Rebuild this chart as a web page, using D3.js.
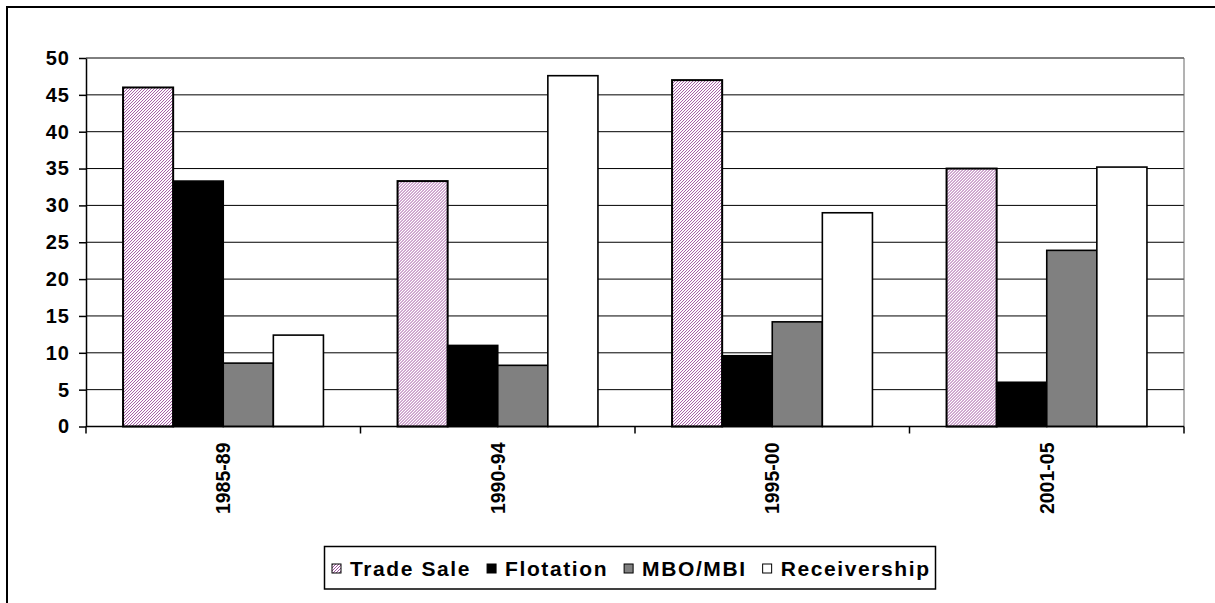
<!DOCTYPE html>
<html>
<head>
<meta charset="utf-8">
<script src="https://cdn.jsdelivr.net/npm/d3@7"></script>
<style>
  body { margin: 0; background: #fff; }
  text { font-family: "Liberation Sans", Arial, sans-serif; font-weight: bold; fill: #000; }
</style>
</head>
<body>
<svg id="canvas" width="1215" height="603"></svg>
<script>
const width = 1215
const height = 603

// data
const periods = ["1985-89", "1990-94", "1995-00", "2001-05"]
const seriesNames = ["Trade Sale", "Flotation", "MBO/MBI", "Receivership"]
const tradeSale = [46, 33.3, 47, 35]
const flotation = [33.3, 11, 9.6, 6]
const mboMbi = [8.6, 8.3, 14.2, 23.9]
const receivership = [12.4, 47.6, 29, 35.2]
const yTicks = [0, 5, 10, 15, 20, 25, 30, 35, 40, 45, 50]

const seriesValues = [tradeSale, flotation, mboMbi, receivership]
const fills = ["url(#hatch)", "#000", "#808080", "#fff"]

const plot = { left: 86, top: 58, right: 1184, bottom: 426.5 }

const canvas = d3.select("#canvas")

// purple diagonal hatch for Trade Sale
const defs = canvas.append("defs")
const pat = defs.append("pattern")
    .attr("id", "hatch")
    .attr("patternUnits", "userSpaceOnUse")
    .attr("width", 3)
    .attr("height", 3)
pat.append("rect").attr("width", 3).attr("height", 3).attr("fill", "#fff")
pat.append("path")
    .attr("d", "M0,3 L3,0 M-1,1 L1,-1 M2,4 L4,2")
    .attr("stroke", "#8a2a8a")
    .attr("stroke-width", 0.8)

// outer frame (runs off the right and bottom of the window)
canvas.append("rect")
    .attr("x", 7).attr("y", 7)
    .attr("width", 1300).attr("height", 700)
    .attr("fill", "none")
    .attr("stroke", "#000")
    .attr("stroke-width", 2)

const x = d3.scaleBand()
    .domain(periods)
    .range([plot.left, plot.right])
    .paddingInner(0.27)
    .paddingOuter(0.135)

const xSub = d3.scaleBand()
    .domain(seriesNames)
    .range([0, x.bandwidth()])

const y = d3.scaleLinear()
    .domain([0, 50])
    .range([plot.bottom, plot.top])

// gridlines
canvas.append("g")
    .selectAll("line")
    .data(yTicks.filter(d => d > 0))
    .enter().append("line")
    .attr("x1", plot.left)
    .attr("x2", plot.right)
    .attr("y1", d => y(d))
    .attr("y2", d => y(d))
    .attr("stroke", "#000")
    .attr("stroke-width", 1)

// right edge of plot area
canvas.append("line")
    .attr("x1", plot.right).attr("x2", plot.right)
    .attr("y1", plot.top).attr("y2", plot.bottom)
    .attr("stroke", "#666")
    .attr("stroke-width", 1)

// bars
const groups = canvas.selectAll("g.period")
    .data(periods)
    .enter().append("g")
    .attr("class", "period")
    .attr("transform", d => "translate(" + x(d) + ",0)")

groups.selectAll("rect")
    .data((p, i) => seriesNames.map((s, j) => ({ s: s, j: j, v: seriesValues[j][i] })))
    .enter().append("rect")
    .attr("x", d => xSub(d.s))
    .attr("y", d => y(d.v))
    .attr("width", xSub.bandwidth())
    .attr("height", d => y(0) - y(d.v))
    .attr("fill", d => fills[d.j])
    .attr("stroke", "#000")
    .attr("stroke-width", d => d.j == 0 ? 2 : 1.6)

// y axis
const yAxis = canvas.append("g")
    .attr("transform", "translate(" + plot.left + ",0)")
    .call(d3.axisLeft(y).tickValues(yTicks).tickSize(7).tickPadding(9).tickSizeOuter(0))
yAxis.select(".domain").attr("stroke-width", 1.5)
yAxis.selectAll(".tick line").attr("stroke-width", 1.5)
yAxis.selectAll("text")
    .style("font-size", "20px")
    .style("letter-spacing", "1px")
    .style("font-family", "'Liberation Sans', Arial, sans-serif")
    .style("font-weight", "bold")

// x axis
const xAxisGroup = canvas.append("g")
    .attr("transform", "translate(0," + plot.bottom + ")")
xAxisGroup.append("line")
    .attr("x1", plot.left).attr("x2", plot.right)
    .attr("stroke", "#000").attr("stroke-width", 1.5)
const tickPos = d3.range(periods.length + 1).map(i => plot.left + (plot.right - plot.left) / periods.length * i)
xAxisGroup.selectAll("line.tick")
    .data(tickPos)
    .enter().append("line")
    .attr("class", "tick")
    .attr("x1", d => d).attr("x2", d => d)
    .attr("y1", 0).attr("y2", 7)
    .attr("stroke", "#000").attr("stroke-width", 1.5)

xAxisGroup.selectAll("text")
    .data(periods)
    .enter().append("text")
    .attr("transform", d => "translate(" + (x(d) + x.bandwidth() / 2) + ",16) rotate(-90)")
    .attr("text-anchor", "end")
    .attr("dy", "0.35em")
    .style("font-size", "19.5px")
    .text(d => d)

// legend
const legend = canvas.append("g")
canvas.append("rect")
    .attr("x", 324.5).attr("y", 546.5)
    .attr("width", 611).attr("height", 42.5)
    .attr("fill", "none")
    .attr("stroke", "#000")
    .attr("stroke-width", 1.5)

var lx = 332
seriesNames.forEach((s, j) => {
    legend.append("rect")
        .attr("x", lx).attr("y", 564)
        .attr("width", 9).attr("height", 9)
        .attr("fill", fills[j])
        .attr("stroke", "#000")
        .attr("stroke-width", 1)
    const t = legend.append("text")
        .attr("x", lx + 18)
        .attr("y", 576)
        .style("font-size", "21px")
        .style("letter-spacing", "1.6px")
        .text(s)
    lx += 18 + t.node().getComputedTextLength() + 16
})
</script>
</body>
</html>
